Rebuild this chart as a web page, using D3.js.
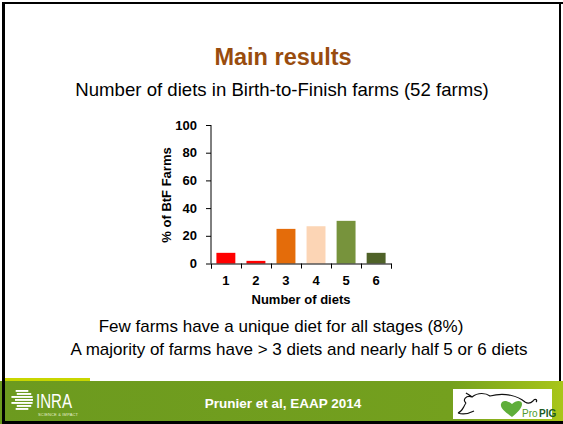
<!DOCTYPE html>
<html>
<head>
<meta charset="utf-8">
<script src="https://cdn.jsdelivr.net/npm/d3@7"></script>
<style>
  body { margin: 0; background: #fff; }
  svg { display: block; font-family: Arial, "Liberation Sans", sans-serif; }
</style>
</head>
<body>
<svg width="563" height="424"></svg>
<script>
var categories = ["1", "2", "3", "4", "5", "6"];
var values = [7.7, 1.9, 25.0, 26.9, 30.8, 7.7];          // % of BtF farms
var barColors = ["#ff0000", "#ff0000", "#e46c0a", "#fcd5b5", "#77933c", "#4f6228"];
var yTicks = [0, 20, 40, 60, 80, 100];

var svg = d3.select("svg"),
    width = +svg.attr("width"),
    height = +svg.attr("height");

// slide background + frame
svg.append("rect").attr("width", width).attr("height", height).attr("fill", "#fff");

var grad = svg.append("defs").append("linearGradient").attr("id", "foot")
    .attr("x1", "0").attr("x2", "1").attr("y1", "0").attr("y2", "0");
grad.append("stop").attr("offset", "0%").attr("stop-color", "#6c9a1f");
grad.append("stop").attr("offset", "80%").attr("stop-color", "#74a01e");
grad.append("stop").attr("offset", "100%").attr("stop-color", "#a9c619");

svg.append("rect").attr("x", 0).attr("y", 381).attr("width", width).attr("height", 43).attr("fill", "url(#foot)");
svg.append("rect").attr("x", 5).attr("y", 378).attr("width", 85).attr("height", 3).attr("fill", "#c8d600");

svg.append("rect").attr("x", 2).attr("y", 2).attr("width", 3).attr("height", 422).attr("fill", "#000");
svg.append("rect").attr("x", 2).attr("y", 2).attr("width", 561).attr("height", 2).attr("fill", "#000");
svg.append("rect").attr("x", 559).attr("y", 2).attr("width", 2).attr("height", 379).attr("fill", "#000");
svg.append("rect").attr("x", 2).attr("y", 421).attr("width", 561).attr("height", 3).attr("fill", "#000");

// titles
svg.append("text").attr("x", 283).attr("y", 65).attr("text-anchor", "middle")
    .style("font-size", "23.5px").style("font-weight", "bold").attr("fill", "#994c0e")
    .text("Main results");
svg.append("text").attr("x", 282).attr("y", 96).attr("text-anchor", "middle")
    .style("font-size", "18.6px").attr("fill", "#000")
    .text("Number of diets in Birth-to-Finish farms (52 farms)");

// chart
var x = d3.scaleBand().domain(categories).range([211, 391]).paddingInner(0.37).paddingOuter(0.18);
var xEdge = d3.scaleLinear().domain([0, categories.length]).range([211, 391]);
var y = d3.scaleLinear().domain([0, 100]).range([263.5, 125]);

svg.append("g").selectAll("rect")
    .data(values)
    .enter().append("rect")
      .attr("x", function(d, i) { return x(categories[i]); })
      .attr("y", function(d) { return y(d); })
      .attr("width", x.bandwidth())
      .attr("height", function(d) { return y(0) - y(d); })
      .attr("fill", function(d, i) { return barColors[i]; });

var yAxis = svg.append("g")
    .attr("transform", "translate(211,0)")
    .call(d3.axisLeft(y).tickValues(yTicks).tickSize(5).tickPadding(9));
yAxis.select(".domain").attr("stroke", "#000").attr("d", "M0," + y(100) + "V" + y(0));

var xEdges = svg.append("g")
    .attr("transform", "translate(0," + y(0) + ")")
    .call(d3.axisBottom(xEdge).tickValues(d3.range(categories.length + 1)).tickSize(5).tickFormat(""));

var xAxis = svg.append("g")
    .attr("transform", "translate(0," + y(0) + ")")
    .call(d3.axisBottom(x).tickSize(0).tickPadding(12));
xAxis.select(".domain").remove();

svg.selectAll(".tick text").style("font-size", "13px").style("font-weight", "bold").attr("fill", "#000");
svg.selectAll(".tick line").attr("stroke", "#000");

svg.append("text").attr("x", 301).attr("y", 304).attr("text-anchor", "middle")
    .style("font-size", "13px").style("font-weight", "bold")
    .text("Number of diets");
svg.append("text").attr("transform", "translate(171,195) rotate(-90)").attr("text-anchor", "middle")
    .style("font-size", "13px").style("font-weight", "bold")
    .text("% of BtF Farms");

// conclusions
svg.append("text").attr("x", 281).attr("y", 332).attr("text-anchor", "middle")
    .style("font-size", "17px").text("Few farms have a unique diet for all stages (8%)");
svg.append("text").attr("x", 299).attr("y", 355).attr("text-anchor", "middle")
    .style("font-size", "17px").text("A majority of farms have > 3 diets and nearly half 5 or 6 diets");

// footer
svg.append("text").attr("x", 283).attr("y", 408).attr("text-anchor", "middle")
    .style("font-size", "13.5px").style("font-weight", "bold").attr("fill", "#fff")
    .text("Prunier et al, EAAP 2014");

// INRA logo
var inra = svg.append("g").attr("transform", "translate(22,400)");
[-9, -6, -3, 0, 3, 6, 9].forEach(function(dy, i) {
  var hw = Math.sqrt(Math.max(0, 121 - dy * dy));
  inra.append("rect").attr("x", -hw + (i % 2 ? 4 : 0)).attr("y", dy - 1).attr("width", 2 * hw - (i % 2 ? 4 : 0)).attr("height", 1.9).attr("fill", "#fff");
});
svg.append("text").attr("x", 36).attr("y", 408).style("font-size", "20px").attr("fill", "#fff")
    .attr("textLength", 36).attr("lengthAdjust", "spacingAndGlyphs").text("INRA");
svg.append("text").attr("x", 38).attr("y", 416).style("font-size", "4px").attr("fill", "#e8f0d0")
    .attr("textLength", 40).text("SCIENCE & IMPACT");

// ProPIG logo
var pp = svg.append("g");
pp.append("rect").attr("x", 453).attr("y", 389).attr("width", 99).attr("height", 30).attr("fill", "#fff");
pp.append("path")
    .attr("d", "M466,403 C462,400 466,395 472,397 C478,392 486,393 490,396 C505,392 518,396 525,402 C528,404 531,403 533,401 C535,398 538,400 536,402 M472,397 C470,395 467,394 466,393 M466,403 C463,407 463,411 458,413 M458,413 C463,415 470,413 474,411")
    .attr("fill", "none").attr("stroke", "#111").attr("stroke-width", 1.2);
pp.append("path")
    .attr("d", "M512,417 C505,412 500,408 501,404 C502,400 507,400 512,404 C516,400 522,400 522,404 C522,408 518,412 512,417 Z")
    .attr("fill", "#5fae3a");
pp.append("text").attr("x", 522).attr("y", 417).style("font-size", "10px").attr("fill", "#4f9a2c").text("Pro");
pp.append("text").attr("x", 539).attr("y", 417).style("font-size", "10px").style("font-weight", "bold").attr("fill", "#1d5a24").text("PIG");
</script>
</body>
</html>
